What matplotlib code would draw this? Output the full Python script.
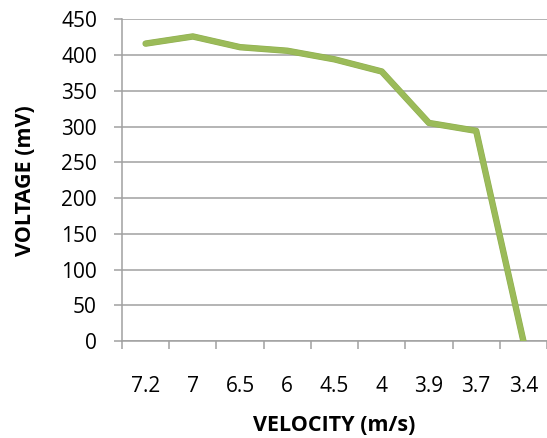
import matplotlib
matplotlib.use("Agg")
import matplotlib.pyplot as plt
import matplotlib.patheffects as pe
import numpy as np

velocity_labels = ["7.2", "7", "6.5", "6", "4.5", "4", "3.9", "3.7", "3.4"]
voltage_mv = [416, 426, 411, 406, 394, 377, 305, 294, 0]
y_ticks = [0, 50, 100, 150, 200, 250, 300, 350, 400, 450]

plt.rcParams["font.family"] = ["Open Sans", "DejaVu Sans"]

fig = plt.figure(figsize=(5.47, 4.38), dpi=100)
ax = fig.add_axes([122 / 547, 97 / 438, 1 - 122 / 547, (341 - 19.3) / 438])

x = np.arange(len(velocity_labels))
ax.plot(x, voltage_mv, color="#9BBB59", linewidth=3.8,
        solid_joinstyle="round", solid_capstyle="round", zorder=3,
        path_effects=[pe.Stroke(linewidth=4.6, foreground="#8FAE50"), pe.Normal()])

grid_color = "#A0A0A0"
ax.set_ylim(0, 450)
ax.set_yticks(y_ticks)
ax.set_xlim(-0.5, len(velocity_labels) - 0.5)
ax.set_xticks(x)
ax.set_xticklabels(velocity_labels)
ax.set_xticks(np.arange(len(velocity_labels) + 1) - 0.5, minor=True)

ax.yaxis.grid(True, color=grid_color, linewidth=1.1)
ax.set_axisbelow(True)

for side in ["top", "right"]:
    ax.spines[side].set_visible(False)
for side in ["left", "bottom"]:
    ax.spines[side].set_color(grid_color)
    ax.spines[side].set_linewidth(1.1)

ax.tick_params(axis="y", length=6, width=1.1, color=grid_color, pad=12,
               labelsize=15, labelcolor="black")
ax.tick_params(axis="x", which="major", length=0, pad=25,
               labelsize=15, labelcolor="black")
ax.tick_params(axis="x", which="minor", length=6, width=1.1, color=grid_color)

ax.set_xlabel("VELOCITY (m/s)", fontsize=15.5, fontweight="bold", labelpad=13)
ax.set_ylabel("VOLTAGE (mV)", fontsize=15.5, fontweight="bold", labelpad=18)

fig.savefig("out.png", dpi=100)
